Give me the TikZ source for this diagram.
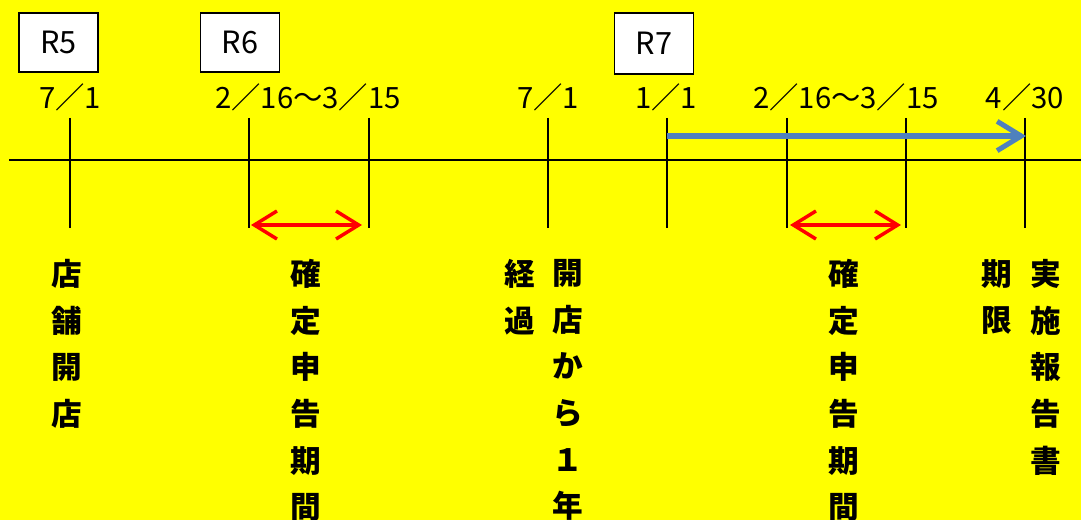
\documentclass[tikz,border=0pt]{standalone}
\usepackage{fontspec}
\newfontfamily\cjk{Noto Sans CJK JP}
\usepackage{xcolor}
\usepackage{tikz}
\usetikzlibrary{arrows.meta}
\usetikzlibrary{positioning}
\definecolor{bgyellow}{RGB}{255,255,0}
\definecolor{spanblue}{RGB}{79,129,189}
\tikzset{
  year box/.style={draw=black, fill=white, line width=1.2pt, inner sep=0pt,
    minimum width=59pt, minimum height=44pt, text depth=-3pt,
    font=\cjk\fontsize{23}{23}\selectfont},
  date label/.style={inner sep=0pt, font=\cjk\fontsize{22}{22}\selectfont},
  tate label/.style={anchor=north, align=center, inner sep=0pt,
    font=\cjk\bfseries\fontsize{23}{35}\selectfont},
  tick line/.style={line width=1.6pt},
  period edge/.style={red, line width=2.6pt,
    {Straight Barb[length=17pt,width=21pt]}-{Straight Barb[length=17pt,width=21pt]}},
  span edge/.style={spanblue, line width=3.8pt,
    -{Straight Barb[length=18pt,width=22pt]}},
}

\begin{document}
\begin{tikzpicture}[x=0.75pt, y=-0.75pt]

  % Background
  \fill[bgyellow] (0,0) rectangle (1081,520);
  \useasboundingbox (0,0) rectangle (1081,520);

  % Year boxes
  \node[year box] (r5) at (58.5,42.5) {R5};
  \node[year box] (r6) at (240,42.5) {R6};
  \node[year box, minimum height=46pt] (r7) at (654,43.5) {R7};

  % Dates
  \node[date label] (d_open) at (70,97) {7／1};
  \node[date label] (d_tax1) at (308,97) {2／16～3／15};
  \node[date label] (d_year) at (548,97) {7／1};
  \node[date label] (d_jan) at (666,97) {1／1};
  \node[date label] (d_tax2) at (846,97) {2／16～3／15};
  \node[date label] (d_due) at (1025,97) {4／30};

  % Time axis
  \coordinate (axis_l) at (9,160);
  \coordinate (axis_r) at (1081,160);
  \draw[line width=1.2pt] (axis_l) -- (axis_r);

  % Ticks
  \foreach \x/\n in {70/open, 249/tax1s, 369/tax1e, 548/year, 667/jan, 787/tax2s, 906/tax2e, 1025/due} {
    \coordinate (top_\n) at (\x,118);
    \coordinate (bot_\n) at (\x,228);
    \draw[tick line] (top_\n) -- (bot_\n);
  }

  % Arrows
  \coordinate (p1_l) at (251,225);
  \coordinate (p1_r) at (362,225);
  \coordinate (p2_l) at (790,225);
  \coordinate (p2_r) at (901,225);
  \coordinate (s_l) at (667,136);
  \coordinate (s_r) at (1026,136);
  \draw[period edge] (p1_l) -- (p1_r);
  \draw[period edge] (p2_l) -- (p2_r);
  \draw[span edge] (s_l) -- (s_r);

  % Vertical labels
  \node[tate label] (t_open) at (67,259) {店\\舗\\開\\店};
  \node[tate label] (t_tax1) at (306,259) {確\\定\\申\\告\\期\\間};
  \node[tate label] (t_after) at (520,259) {経\\過};
  \node[tate label] (t_year) at (568,259) {開\\店\\か\\ら\\１\\年};
  \node[tate label] (t_tax2) at (844,259) {確\\定\\申\\告\\期\\間};
  \node[tate label] (t_limit) at (997,259) {期\\限};
  \node[tate label] (t_report) at (1046,259) {実\\施\\報\\告\\書};

\end{tikzpicture}
\end{document}
